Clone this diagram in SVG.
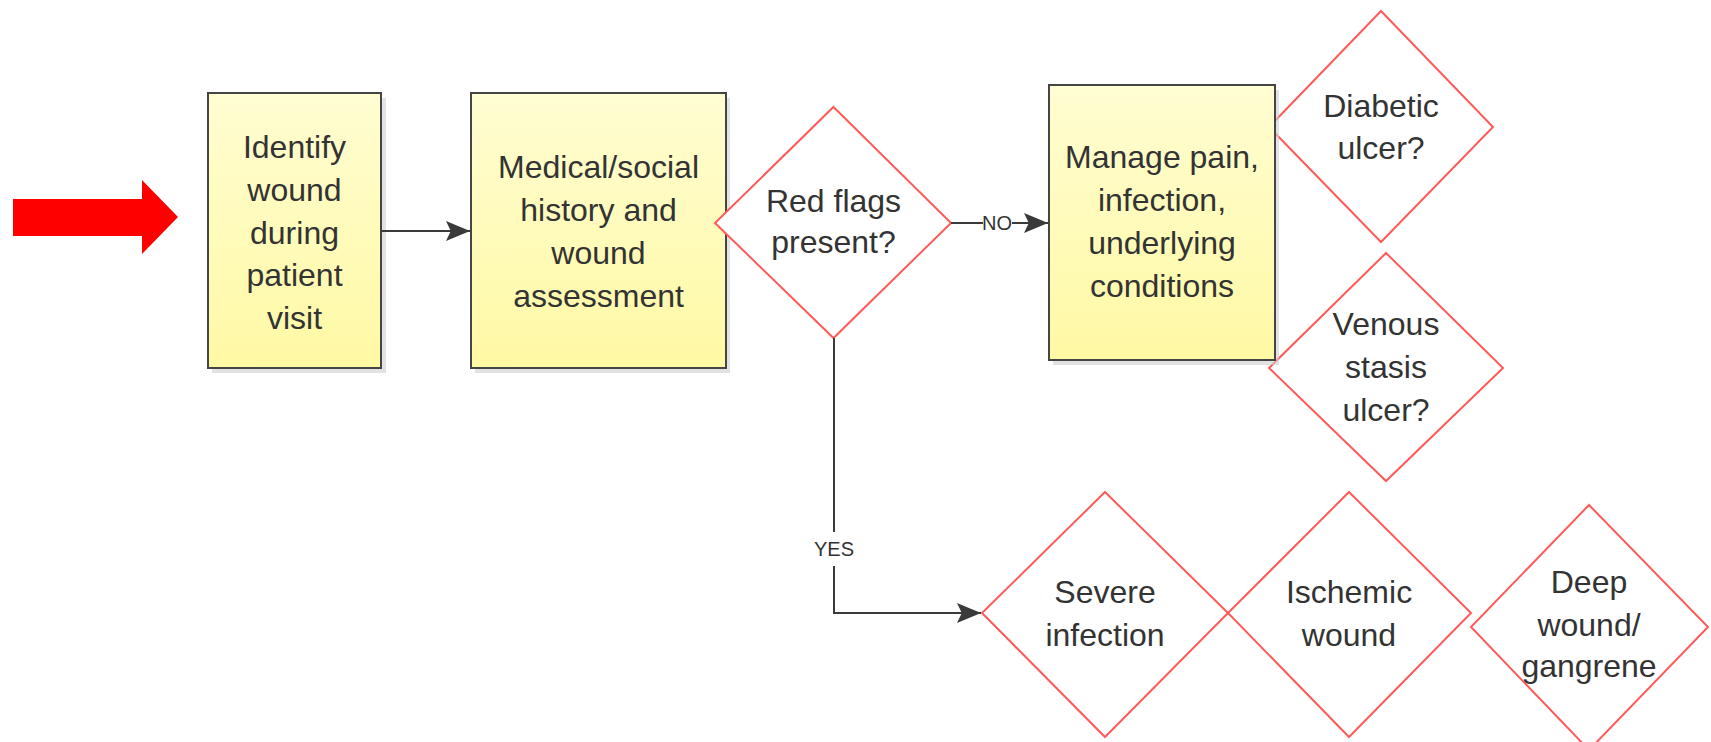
<svg xmlns="http://www.w3.org/2000/svg" width="1711" height="742" viewBox="0 0 1711 742">
<defs>
<linearGradient id="yel" x1="0" y1="0" x2="0" y2="1">
<stop offset="0" stop-color="#fffdd2"/>
<stop offset="1" stop-color="#fff9a4"/>
</linearGradient>
<marker id="arr" viewBox="0 0 10 10" refX="10" refY="5" markerWidth="11" markerHeight="11" markerUnits="userSpaceOnUse" orient="auto">
<path d="M0,0 L10,5 L0,10 Z" fill="#3a3a3a"/>
</marker>
<marker id="arrL" viewBox="0 0 10 10" refX="10" refY="5" markerWidth="24" markerHeight="20" markerUnits="userSpaceOnUse" orient="auto" preserveAspectRatio="none">
<path d="M0,0 L10,5 L0,10 L2,5 Z" fill="#3a3a3a"/>
</marker>
</defs>
<style>
.box{fill:url(#yel);stroke:#454545;stroke-width:2}
.shadow{fill:#cfcfcf;opacity:0.6}
.dia{fill:#ffffff;stroke:#ff5a5a;stroke-width:2}
.t{font-family:"Liberation Sans",Arial,sans-serif;font-size:32px;fill:#333333;text-anchor:middle}
.lbl{font-family:"Liberation Sans",Arial,sans-serif;font-size:20px;fill:#333333;text-anchor:middle}
.con{fill:none;stroke:#3a3a3a;stroke-width:2}
</style>
<rect width="1711" height="742" fill="#ffffff"/>

<g id="start-arrow">
<path d="M13,199 L142,199 L142,180 L178,217 L142,254 L142,236 L13,236 Z" fill="#ff0000"/>
</g>

<g id="diabetic">
<path class="dia" d="M1381,11 L1493,127 L1381,242 L1269,127 Z"/>
<text class="t" x="1381" y="117">Diabetic</text>
<text class="t" x="1381" y="159">ulcer?</text>
</g>

<g id="venous">
<path class="dia" d="M1386,253 L1503,368 L1386,481 L1269,368 Z"/>
<text class="t" x="1386" y="335">Venous</text>
<text class="t" x="1386" y="378">stasis</text>
<text class="t" x="1386" y="421">ulcer?</text>
</g>

<g id="identify">
<rect class="shadow" x="212" y="98" width="174" height="275"/>
<rect class="box" x="208" y="93" width="173" height="275"/>
<text class="t" x="294.5" y="158">Identify</text>
<text class="t" x="294.5" y="201">wound</text>
<text class="t" x="294.5" y="244">during</text>
<text class="t" x="294.5" y="286">patient</text>
<text class="t" x="294.5" y="329">visit</text>
</g>

<g id="history">
<rect class="shadow" x="475" y="98" width="255" height="275"/>
<rect class="box" x="471" y="93" width="255" height="275"/>
<text class="t" x="598.5" y="178">Medical/social</text>
<text class="t" x="598.5" y="221">history and</text>
<text class="t" x="598.5" y="264">wound</text>
<text class="t" x="598.5" y="307">assessment</text>
</g>

<g id="redflags">
<path class="dia" d="M833.5,107 L951,223 L833.5,338 L715,223 Z"/>
<text class="t" x="833.5" y="212">Red flags</text>
<text class="t" x="833.5" y="253">present?</text>
</g>

<g id="manage">
<rect class="shadow" x="1053" y="90" width="226" height="275"/>
<rect class="box" x="1049" y="85" width="226" height="275"/>
<text class="t" x="1162" y="168">Manage pain,</text>
<text class="t" x="1162" y="211">infection,</text>
<text class="t" x="1162" y="254">underlying</text>
<text class="t" x="1162" y="297">conditions</text>
</g>

<g id="severe">
<path class="dia" d="M1105,492 L1228,613 L1105,737 L982,613 Z"/>
<text class="t" x="1105" y="603">Severe</text>
<text class="t" x="1105" y="646">infection</text>
</g>

<g id="ischemic">
<path class="dia" d="M1349,492 L1471,613 L1349,737 L1228,613 Z"/>
<text class="t" x="1349" y="603">Ischemic</text>
<text class="t" x="1349" y="646">wound</text>
</g>

<g id="deep">
<path class="dia" d="M1589,505 L1708,627 L1589,750 L1471,627 Z"/>
<text class="t" x="1589" y="593">Deep</text>
<text class="t" x="1589" y="636">wound/</text>
<text class="t" x="1589" y="677">gangrene</text>
</g>

<g id="connectors">
<line class="con" x1="381" y1="231" x2="470" y2="231" marker-end="url(#arrL)"/>
<line class="con" x1="951" y1="223" x2="1048" y2="223" marker-end="url(#arrL)"/>
<rect x="983" y="211" width="29" height="24" fill="#ffffff"/>
<text class="lbl" x="997" y="230">NO</text>
<path class="con" d="M834,338 L834,613 L981,613" marker-end="url(#arrL)"/>
<rect x="816" y="532" width="36" height="34" fill="#ffffff"/>
<text class="lbl" x="834" y="556">YES</text>
</g>
</svg>
